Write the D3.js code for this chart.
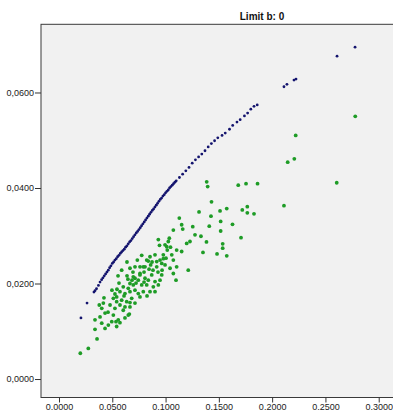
<!DOCTYPE html>
<html>
<head>
<meta charset="utf-8">
<script src="https://cdn.jsdelivr.net/npm/d3@7/dist/d3.min.js"></script>
<style>
  body { margin: 0; background: #ffffff; }
  text { font-family: Arial, "Liberation Sans", sans-serif; }
</style>
</head>
<body>
<div id="chart"></div>
<script>
var chartTitle = "Limit b: 0";

var xTicks = [0, 0.05, 0.10, 0.15, 0.20, 0.25, 0.30];
var yTicks = [0, 0.02, 0.04, 0.06];

// blue series: x and y
var blueX = [0.0206, 0.0263, 0.0328, 0.0338, 0.0352, 0.0370, 0.0385,
  0.0400, 0.0425, 0.0450, 0.0475, 0.0500, 0.0525, 0.0550, 0.0575, 0.0600, 0.0625,
  0.0650, 0.0675, 0.0700, 0.0725, 0.0750, 0.0775, 0.0800, 0.0825, 0.0850, 0.0875,
  0.0900, 0.0925, 0.0950, 0.0975, 0.1000, 0.1025, 0.1050, 0.1075, 0.1100,
  0.1130, 0.1160, 0.1190, 0.1220, 0.1250, 0.1280, 0.1310, 0.1340, 0.1370, 0.1400,
  0.1430, 0.1460, 0.1490, 0.1530, 0.1560, 0.1600, 0.1630, 0.1670, 0.1700, 0.1740,
  0.1770, 0.1800, 0.1830, 0.1860,
  0.2111, 0.2139, 0.2205, 0.2224, 0.2609, 0.2778,
  0.04125, 0.04375, 0.04625, 0.04875, 0.05125, 0.05375, 0.05625, 0.05875, 0.06125,
  0.06375, 0.06625, 0.06875, 0.07125, 0.07375, 0.07625, 0.07875, 0.08125, 0.08375,
  0.08625, 0.08875, 0.09125, 0.09375, 0.09625, 0.09875, 0.10125, 0.10375, 0.10625, 0.10875];
var blueY = [0.0128, 0.0159, 0.0182, 0.0185, 0.0189, 0.0196, 0.0203,
  0.0208, 0.0216, 0.0224, 0.0233, 0.0242, 0.0249, 0.0256, 0.0263, 0.0269, 0.0276,
  0.0283, 0.0290, 0.0298, 0.0306, 0.0313, 0.0321, 0.0329, 0.0337, 0.0345, 0.0353,
  0.0360, 0.0368, 0.0376, 0.0383, 0.0390, 0.0396, 0.0403, 0.0409, 0.0415,
  0.0422, 0.0429, 0.0436, 0.0443, 0.0452, 0.0459, 0.0465, 0.0471, 0.0478, 0.0486,
  0.0493, 0.0499, 0.0505, 0.0510, 0.0515, 0.0523, 0.0531, 0.0538, 0.0543, 0.0551,
  0.0557, 0.0565, 0.0571, 0.0574,
  0.0612, 0.0617, 0.0626, 0.0628, 0.0676, 0.0695,
  0.0212, 0.0220, 0.0228, 0.0237, 0.0245, 0.0252, 0.0259, 0.0266, 0.0272,
  0.0279, 0.0287, 0.0294, 0.0302, 0.0309, 0.0317, 0.0325, 0.0333, 0.0341,
  0.0349, 0.0356, 0.0364, 0.0372, 0.0379, 0.0386, 0.0393, 0.0400, 0.0406, 0.0412];

// green series: [x, y]
var greenPoints = [
  [0.2780, 0.0550], [0.2221, 0.0510], [0.2146, 0.0454], [0.2208, 0.0461], [0.2606, 0.0411],
  [0.1386, 0.0413], [0.1395, 0.0403], [0.1682, 0.0406], [0.1755, 0.0409], [0.1863, 0.0409],
  [0.2111, 0.0363], [0.1431, 0.0371], [0.1314, 0.0350], [0.1511, 0.0352], [0.1574, 0.0357],
  [0.1720, 0.0354], [0.1767, 0.0361], [0.1767, 0.0348], [0.1830, 0.0346], [0.1426, 0.0341],
  [0.1129, 0.0337], [0.1517, 0.0330], [0.1410, 0.0320], [0.1628, 0.0324], [0.1151, 0.0323],
  [0.1161, 0.0314], [0.1073, 0.0312], [0.1255, 0.0319], [0.1517, 0.0310], [0.1276, 0.0302],
  [0.1332, 0.0299], [0.1708, 0.0296], [0.1384, 0.0287], [0.1536, 0.0283], [0.1536, 0.0274],
  [0.1351, 0.0265], [0.1483, 0.0262], [0.1574, 0.0258], [0.1229, 0.0288], [0.1198, 0.0284],
  [0.1035, 0.0295], [0.0932, 0.0292], [0.0943, 0.0280], [0.1011, 0.0277], [0.1046, 0.0276],
  [0.1104, 0.0270], [0.1151, 0.0267], [0.1058, 0.0260], [0.0979, 0.0260], [0.0901, 0.0260],
  [0.1073, 0.0249], [0.0948, 0.0249], [0.0854, 0.0256], [0.0823, 0.0249], [0.0735, 0.0249],
  [0.0807, 0.0235], [0.0917, 0.0235], [0.0995, 0.0239], [0.1042, 0.0232], [0.1104, 0.0235],
  [0.1213, 0.0228], [0.1073, 0.0221], [0.0760, 0.0221], [0.0964, 0.0218], [0.1098, 0.0207],
  [0.1026, 0.0288], [0.0995, 0.0281], [0.0860, 0.0239], [0.0917, 0.0246], [0.0964, 0.0242],
  [0.0838, 0.0247], [0.0776, 0.0259], [0.0666, 0.0232], [0.0588, 0.0228], [0.0713, 0.0235],
  [0.0760, 0.0235], [0.0760, 0.0218], [0.0713, 0.0211], [0.0744, 0.0207], [0.0807, 0.0211],
  [0.0838, 0.0207], [0.0870, 0.0218], [0.0901, 0.0204], [0.0932, 0.0197], [0.0885, 0.0193],
  [0.0823, 0.0197], [0.0776, 0.0197], [0.0697, 0.0197], [0.0666, 0.0200], [0.0650, 0.0190],
  [0.0603, 0.0193], [0.0572, 0.0183], [0.0619, 0.0179], [0.0666, 0.0183], [0.0713, 0.0186],
  [0.0744, 0.0179], [0.0791, 0.0183], [0.0854, 0.0183], [0.0901, 0.0183], [0.0541, 0.0172],
  [0.0588, 0.0165], [0.0635, 0.0162], [0.0682, 0.0169], [0.0713, 0.0159], [0.0666, 0.0151],
  [0.0572, 0.0155], [0.0541, 0.0162], [0.0510, 0.0169], [0.0525, 0.0148], [0.0603, 0.0144],
  [0.0650, 0.0134], [0.0510, 0.0134], [0.0556, 0.0124], [0.0495, 0.0120], [0.0416, 0.0159],
  [0.0401, 0.0148], [0.0432, 0.0138], [0.0385, 0.0130], [0.0338, 0.0124], [0.0401, 0.0117],
  [0.0463, 0.0113], [0.0432, 0.0106], [0.0338, 0.0104], [0.0357, 0.0084], [0.0275, 0.0064],
  [0.0200, 0.0054], [0.0535, 0.0120], [0.0572, 0.0118], [0.0541, 0.0110], [0.0378, 0.0155],
  [0.0660, 0.0136], [0.0619, 0.0151], [0.0666, 0.0160], [0.0525, 0.0178], [0.1016, 0.0270],
  [0.0979, 0.0252], [0.0791, 0.0235], [0.0697, 0.0214], [0.0638, 0.0216], [0.0685, 0.0207],
  [0.0798, 0.0224], [0.0845, 0.0230], [0.0882, 0.0228], [0.0929, 0.0224], [0.0967, 0.0228],
  [0.1004, 0.0253], [0.0798, 0.0203], [0.0723, 0.0201], [0.0647, 0.0209], [0.0563, 0.0201],
  [0.0610, 0.0174], [0.0760, 0.0172], [0.0826, 0.0174], [0.0479, 0.0155], [0.0460, 0.0140],
  [0.0619, 0.0128], [0.0422, 0.0170], [0.0497, 0.0186], [0.0544, 0.0188], [0.0948, 0.0207],
  [0.0873, 0.0245], [0.0694, 0.0224], [0.0638, 0.0245], [0.0554, 0.0216]
];

var width = 393, height = 412;
var plot = { left: 41, right: 483, top: 24.3, bottom: 397.5 };

var svg = d3.select("#chart")
  .append("svg")
  .attr("width", width)
  .attr("height", height);

var x = d3.scaleLinear()
  .domain([-0.01689, 0.39786])
  .range([plot.left, plot.right]);

var y = d3.scaleLinear()
  .domain([-0.00387, 0.07428])
  .range([plot.bottom, plot.top]);

// plot background
svg.append("rect")
  .attr("x", plot.left)
  .attr("y", plot.top)
  .attr("width", plot.right - plot.left)
  .attr("height", plot.bottom - plot.top)
  .attr("fill", "#f1f1f1")
  .attr("stroke", "#3a3a3a")
  .attr("stroke-width", 1);

svg.append("text")
  .attr("x", (plot.left + plot.right) / 2)
  .attr("y", 20)
  .attr("text-anchor", "middle")
  .attr("font-size", "10px")
  .attr("font-weight", "bold")
  .attr("fill", "#111")
  .text(chartTitle);

var yAxis = svg.append("g")
  .attr("transform", "translate(" + plot.left + ",0)")
  .call(d3.axisLeft(y)
    .tickValues(yTicks)
    .tickSize(6)
    .tickFormat(function(d) { return d3.format(".4f")(d).replace(".", ","); }));
yAxis.select(".domain").remove();
yAxis.selectAll("line").attr("stroke", "#333");
yAxis.selectAll("text")
  .attr("font-size", "9px")
  .attr("fill", "#222")
  .attr("x", -7)
  .attr("font-family", "Arial, 'Liberation Sans', sans-serif");

var xAxis = svg.append("g")
  .attr("transform", "translate(0," + plot.bottom + ")")
  .call(d3.axisBottom(x)
    .tickValues(xTicks)
    .tickSize(5)
    .tickFormat(d3.format(".4f")));
xAxis.select(".domain").remove();
xAxis.selectAll("line").attr("stroke", "#333");
xAxis.selectAll("text")
  .attr("font-size", "9px")
  .attr("fill", "#222")
  .attr("y", 6.5)
  .attr("font-family", "Arial, 'Liberation Sans', sans-serif");

var dots = svg.append("g");

dots.selectAll(".green")
  .data(greenPoints)
  .enter()
  .append("circle")
  .attr("class", "green")
  .attr("cx", function(d) { return x(d[0]); })
  .attr("cy", function(d) { return y(d[1]); })
  .attr("r", 1.9)
  .attr("fill", "#1e9c26");

dots.selectAll(".blue")
  .data(blueX.map(function(v, i) { return [v, blueY[i]]; }))
  .enter()
  .append("circle")
  .attr("class", "blue")
  .attr("cx", function(d) { return x(d[0]); })
  .attr("cy", function(d) { return y(d[1]); })
  .attr("r", 1.4)
  .attr("fill", "#14146e");
</script>
</body>
</html>
